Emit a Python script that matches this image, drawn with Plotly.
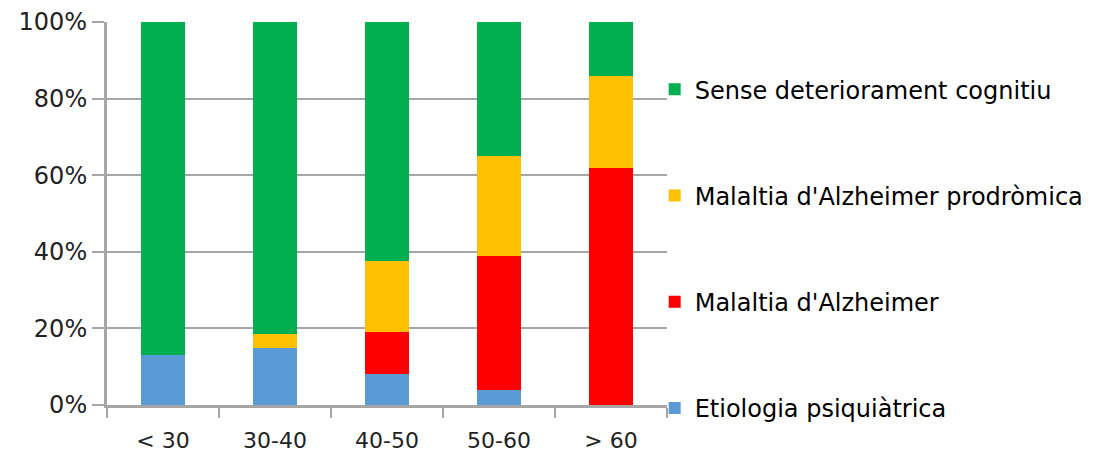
import plotly.graph_objects as go

categories = ["< 30", "30-40", "40-50", "50-60", "> 60"]
etiologia_psiquiatrica = [13, 15, 8, 4, 0]
malaltia_alzheimer = [0, 0, 11, 35, 62]
alzheimer_prodromica = [0, 3.5, 18.5, 26, 24]
sense_deteriorament = [87, 81.5, 62.5, 35, 14]

series = [
    ("Etiologia psiquiàtrica", etiologia_psiquiatrica, "#5B9BD5", 4),
    ("Malaltia d'Alzheimer", malaltia_alzheimer, "#FF0000", 3),
    ("Malaltia d'Alzheimer prodròmica", alzheimer_prodromica, "#FFC000", 2),
    ("Sense deteriorament cognitiu", sense_deteriorament, "#00B050", 1),
]

fig = go.Figure()
for name, vals, color, rank in series:
    fig.add_trace(go.Bar(
        x=categories, y=vals, name=name, legendgroup=name, legendrank=rank,
        marker=dict(color=color, line=dict(width=0)),
    ))

FONT = "DejaVu Sans"
GRID = "#a6a6a6"
# page body has an 8px margin; figure sized to the visible area
fig.update_layout(
    barmode="stack",
    bargap=0.607,
    width=1086, height=449,
    margin=dict(l=99, r=427, t=14, b=52, autoexpand=False),
    paper_bgcolor="white", plot_bgcolor="white",
    font=dict(family=FONT, size=24, color="#000000"),
    showlegend=True,
    legend=dict(
        traceorder="grouped",
        tracegroupgap=72,
        x=0.978, xanchor="left",
        y=0.882, yanchor="top",
        font=dict(family=FONT, size=24, color="#000000"),
        bgcolor="rgba(0,0,0,0)",
    ),
)
fig.update_yaxes(
    range=[0, 100], dtick=20, ticksuffix="%",
    showgrid=True, gridcolor=GRID, gridwidth=2,
    showline=True, linecolor=GRID, linewidth=3,
    ticks="outside", ticklen=12, tickwidth=2, tickcolor=GRID,
    zeroline=False,
    tickfont=dict(family=FONT, size=24, color="#222222"),
)
fig.update_xaxes(
    showline=True, linecolor=GRID, linewidth=3,
    ticks="outside", tickson="boundaries", ticklen=10, tickwidth=2, tickcolor=GRID,
    ticklabelstandoff=14,
    tickfont=dict(family=FONT, size=22, color="#222222"),
)

fig.write_html("out.html")
